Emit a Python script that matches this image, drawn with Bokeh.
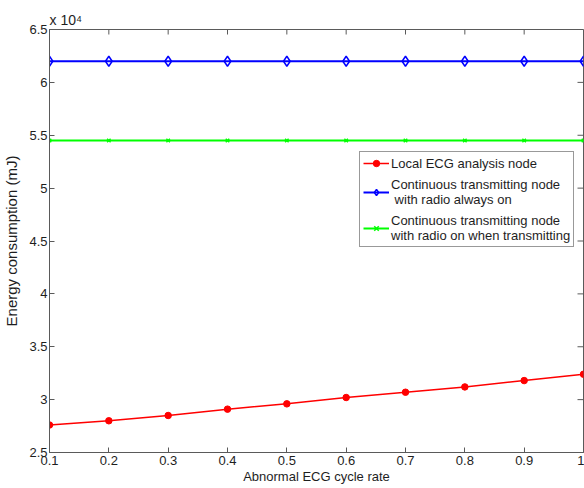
import math
from bokeh.plotting import figure
from bokeh.models import (Legend, LegendItem, CustomJSTickFormatter, FixedTicker,
                          Range1d, Title)
from bokeh.embed import file_html
from bokeh.resources import INLINE

# ---- data ----
rate = [0.1, 0.2, 0.3, 0.4, 0.5, 0.6, 0.7, 0.8, 0.9, 1.0]
local_node = [27600, 28000, 28500, 29100, 29600, 30200, 30700, 31200, 31800, 32400]
radio_always_on = [62000, 62000, 62000, 62000, 62000, 62000, 62000, 62000, 62000, 62000]
radio_on_tx = [54500, 54500, 54500, 54500, 54500, 54500, 54500, 54500, 54500, 54500]
x_ticks = [0.1, 0.2, 0.3, 0.4, 0.5, 0.6, 0.7, 0.8, 0.9, 1.0]
y_ticks = [25000, 30000, 35000, 40000, 45000, 50000, 55000, 60000, 65000]
labels = ["Local ECG analysis node",
          "Continuous transmitting node\n with radio always on",
          "Continuous transmitting node\nwith radio on when transmitting"]
x_min, x_max = 0.1, 1.0
y_min, y_max = 25000, 65000

FONT = "Liberation Sans"
AX = "#5a5a5a"
TXT = "#1e1e1e"

p = figure(width=584, height=488, output_backend="svg", toolbar_location=None,
           x_range=Range1d(x_min, x_max), y_range=Range1d(y_min, y_max),
           min_border_left=49, min_border_top=29, min_border_right=1,
           min_border_bottom=36, background_fill_color="white",
           border_fill_color="white")
p.grid.visible = False
p.outline_line_color = AX
p.outline_line_width = 1

p.xaxis.ticker = FixedTicker(ticks=x_ticks)
p.yaxis.ticker = FixedTicker(ticks=y_ticks)
p.xaxis.formatter = CustomJSTickFormatter(code="return String(Math.round(tick*10)/10);")
p.yaxis.formatter = CustomJSTickFormatter(code="return String(Math.round(tick/1000)/10);")
p.xaxis.axis_label = "Abnormal ECG cycle rate"
p.yaxis.axis_label = "Energy consumption (mJ)"
for ax in p.xaxis + p.yaxis:
    ax.axis_line_color = AX
    ax.major_tick_line_color = AX
    ax.major_tick_in = 5
    ax.major_tick_out = 0
    ax.minor_tick_line_color = None
    ax.major_label_text_font = FONT
    ax.major_label_text_color = TXT
    ax.major_label_text_font_size = "13px"
    ax.axis_label_text_font = FONT
    ax.axis_label_text_font_style = "normal"
    ax.axis_label_text_color = TXT
p.xaxis.major_label_standoff = 3
p.xaxis.axis_label_standoff = 1
p.xaxis.axis_label_text_font_size = "13px"
p.yaxis.major_label_standoff = 2
p.yaxis.axis_label_standoff = 6
p.yaxis.axis_label_text_font_size = "15px"

# inward ticks on the top and right edges of the box
p.ray(x=[x_max] * len(y_ticks), y=y_ticks, length=6, length_units="screen",
      angle=math.pi, line_color=AX, line_width=1)
p.ray(x=x_ticks, y=[y_max] * len(x_ticks), length=5, length_units="screen",
      angle=-math.pi / 2, line_color=AX, line_width=1)

r1l = p.line(rate, local_node, line_color="#ff0000", line_width=1.5)
r1m = p.scatter(rate, local_node, marker="circle", size=6.5, fill_color="#ff0000",
                line_color="#ff0000")
r2l = p.line(rate, radio_always_on, line_color="#0000ff", line_width=2)
r2m = p.scatter(rate, radio_always_on, marker="diamond", size=10,
                fill_color="white", fill_alpha=0, line_color="#0000ff", line_width=1.5)
r3l = p.line(rate, radio_on_tx, line_color="#00ff00", line_width=2)
r3m = p.scatter(rate, radio_on_tx, marker="x", size=5, line_color="#00ff00",
                line_width=1.5)

legend = Legend(items=[LegendItem(label=labels[0], renderers=[r1l, r1m]),
                       LegendItem(label=labels[1], renderers=[r2l, r2m]),
                       LegendItem(label=labels[2], renderers=[r3l, r3m])],
                location=(310, 205))
legend.label_text_font = FONT
legend.label_text_font_size = "13px"
legend.label_text_color = TXT
legend.label_text_line_height = 1.25
legend.glyph_width = 26
legend.glyph_height = 16
legend.label_standoff = 2
legend.padding = 3
legend.spacing = 6
legend.margin = 0
legend.border_line_color = "#333333"
legend.background_fill_alpha = 1
p.add_layout(legend, "center")

p.add_layout(Title(text="x 10\u2074", align="left", text_font=FONT,
                   text_font_size="14px", text_font_style="normal",
                   text_color=TXT, standoff=3), "above")

open("out.html", "w").write(file_html(p, INLINE))
